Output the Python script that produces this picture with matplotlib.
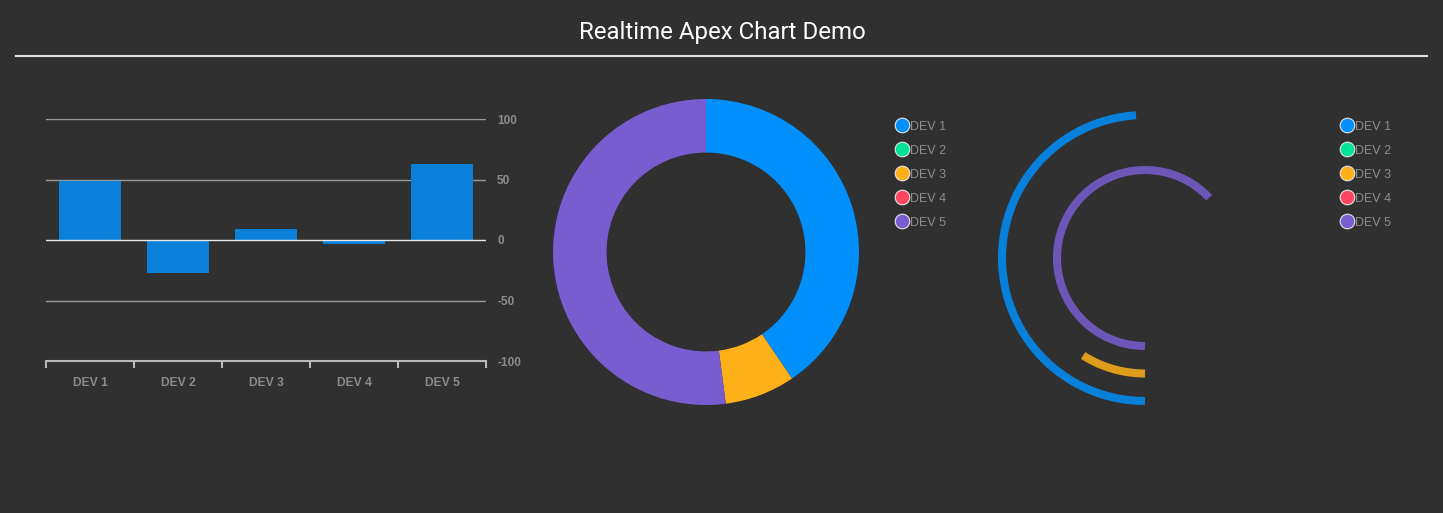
import numpy as np
import matplotlib
matplotlib.use("Agg")
import matplotlib.pyplot as plt

## chart data
devices = ["DEV 1", "DEV 2", "DEV 3", "DEV 4", "DEV 5"]
values = [49, -27, 9, -3, 63]
y_ticks = [100, 50, 0, -50, -100]
colors = ["#008FFB", "#00E396", "#FEB019", "#FF4560", "#775DD0"]
title = "Realtime Apex Chart Demo"

BG = "#303030"
GRAY = "#8c8c8c"
W, H = 1443, 513


def px_axes(fig, x0, y0, x1, y1, **kw):
    # axes from pixel box (top-left origin)
    return fig.add_axes([x0 / W, 1 - y1 / H, (x1 - x0) / W, (y1 - y0) / H], **kw)


fig = plt.figure(figsize=(W / 100, H / 100), dpi=100, facecolor=BG)

## overlay for title, rule and legends
ov = px_axes(fig, 0, 0, W, H)
ov.set_xlim(0, W)
ov.set_ylim(H, 0)
ov.axis("off")
ov.text(722, 33, title, color="white", fontsize=17.3, family="Roboto",
        ha="center", va="center")
ov.plot([16, 1427], [56, 56], color="#e0e0e0", lw=1.5)

## bar chart
ax = px_axes(fig, 46, 119, 486, 361)
ax.set_facecolor(BG)
x = np.arange(len(devices))
ax.bar(x, values, width=0.7, color="#0a80d8", zorder=3)
ax.set_xlim(-0.5, len(devices) - 0.5)
ax.set_ylim(-100, 100)
for t in y_ticks:
    if t == -100:
        continue
    ax.axhline(t, color="#e8e8e8" if t == 0 else "#9a9a9a", lw=1, zorder=2 if t else 4)
for s in ["top", "left", "right"]:
    ax.spines[s].set_visible(False)
ax.spines["bottom"].set_color("#b8b8b8")
ax.spines["bottom"].set_linewidth(1.5)
ax.yaxis.tick_right()
ax.set_yticks(y_ticks)
ax.set_yticklabels([str(t) for t in y_ticks])
ax.tick_params(axis="y", length=0, pad=8, labelcolor=GRAY, labelsize=8.5)
for lab in ax.get_yticklabels():
    lab.set_fontweight("bold")
    lab.set_family("Liberation Sans")
    lab.set_horizontalalignment("left")
ax.set_xticks(np.arange(len(devices) + 1) - 0.5, minor=True)
ax.set_xticks(x)
ax.set_xticklabels(devices)
ax.tick_params(axis="x", which="major", length=0, pad=11.5, labelcolor=GRAY, labelsize=8.7)
ax.tick_params(axis="x", which="minor", length=5, width=1.5, color="#b8b8b8")
for lab in ax.get_xticklabels():
    lab.set_fontweight("bold")
    lab.set_family("Liberation Sans")

## donut
R = 153
dx = px_axes(fig, 706 - 1.25 * R, 252 - 1.25 * R, 706 + 1.25 * R, 252 + 1.25 * R)
pos = [max(v, 0) for v in values]
dx.pie(pos, colors=colors, startangle=90, counterclock=False,
       wedgeprops=dict(width=0.35, linewidth=0))
dx.set_xlim(-1.25, 1.25)
dx.set_ylim(-1.25, 1.25)

## radial bars
rx = px_axes(fig, 1145 - 150, 258 - 150, 1145 + 150, 258 + 150, projection="polar")
rx.set_facecolor("none")
rx.set_theta_zero_location("S")
rx.set_theta_direction(-1)
rx.set_ylim(0, 150)
rx.axis("off")
for i, v in enumerate(pos):
    if v <= 0:
        continue
    th = np.linspace(0, v / 100 * 2 * np.pi, 200)
    rx.plot(th, np.full_like(th, 143 - i * 13.75), color=colors[i], alpha=0.85,
            lw=5.8, solid_capstyle="butt")

## legends
for lx in (902, 1347):
    for i, d in enumerate(devices):
        yy = 125 + 24 * i
        ov.plot(lx, yy, "o", ms=10.5, mfc=colors[i], mec="#e6e6e6", mew=0.8)
        ov.text(lx + 8, yy + 1.5, d, color=GRAY, fontsize=9, family="Liberation Sans",
                ha="left", va="center")

fig.savefig("out.png", dpi=100, facecolor=BG)
